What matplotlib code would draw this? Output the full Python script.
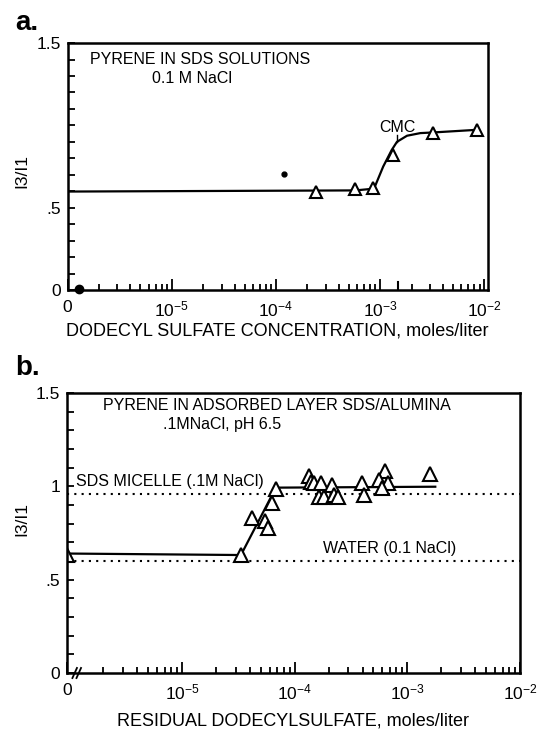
import numpy as np
import matplotlib.pyplot as plt
from matplotlib.ticker import (FixedLocator, FixedFormatter, LogLocator,
                               MultipleLocator, NullFormatter)

plt.rcParams['font.family'] = ['Liberation Sans', 'DejaVu Sans']
plt.rcParams['mathtext.fontset'] = 'custom'
plt.rcParams['mathtext.rm'] = 'Liberation Sans'
plt.rcParams['mathtext.it'] = 'Liberation Sans:italic'

# (a) pyrene in SDS solutions, 0.1 M NaCl
conc_a = [2.4e-4, 5.75e-4, 8.5e-4, 1.32e-3, 3.25e-3, 8.6e-3]
ratio_a = [0.598, 0.612, 0.619, 0.821, 0.953, 0.969]
curve_a_x = [1e-6, 5.8e-4, 8.5e-4, 8.9e-4, 1.07e-3, 1.29e-3, 1.45e-3,
             1.81e-3, 2.43e-3, 3.24e-3, 8.5e-3]
curve_a_y = [0.598, 0.605, 0.615, 0.628, 0.75, 0.85, 0.90,
             0.937, 0.953, 0.957, 0.973]
stray_x, stray_y = 1.2e-4, 0.705
blob_x, blob_y = 1.3e-6, 0.005
cmc = 1.5e-3

# (b) pyrene in adsorbed SDS layer on alumina
conc_b = [3.33e-5, 4.2e-5, 5.46e-5, 5.84e-5, 6.26e-5, 6.79e-5,
          1.34e-4, 1.39e-4, 1.48e-4, 1.70e-4, 1.64e-4, 1.82e-4,
          2.15e-4, 2.23e-4, 2.42e-4, 3.96e-4, 4.1e-4, 6.3e-4,
          5.65e-4, 6.8e-4, 5.96e-4, 1.6e-3]
ratio_b = [0.632, 0.829, 0.816, 0.775, 0.909, 0.984,
           1.055, 1.025, 1.016, 1.016, 0.944, 0.944,
           1.007, 0.953, 0.941, 1.019, 0.953, 1.084,
           1.034, 1.016, 0.989, 1.066]
ratio_b_zero = 0.634
curve_b_x = [3.33e-5, 6.8e-5, 1.77e-3]
curve_b_y = [0.632, 0.993, 0.998]
curve_b_start = 0.64
micelle_level = 0.96
water_level = 0.60

xlim_a = (1e-6, 1.08e-2)
xlim_b = (0.95e-6, 1e-2)
xtick_labels = ['0', '$10^{-5}$', '$10^{-4}$', '$10^{-3}$', '$10^{-2}$']


def style_axes(ax, xlim, ylabels):
    ax.set_xscale('log')
    ax.set_xlim(*xlim)
    ax.set_ylim(0, 1.5)
    ax.xaxis.set_major_locator(FixedLocator([xlim[0], 1e-5, 1e-4, 1e-3, 1e-2]))
    ax.xaxis.set_major_formatter(FixedFormatter(xtick_labels))
    ax.xaxis.set_minor_locator(LogLocator(base=10, subs=np.arange(2, 10), numticks=30))
    ax.xaxis.set_minor_formatter(NullFormatter())
    ax.yaxis.set_major_locator(FixedLocator([0, 0.5, 1.0, 1.5]))
    ax.yaxis.set_major_formatter(FixedFormatter(ylabels))
    ax.yaxis.set_minor_locator(MultipleLocator(0.1))
    ax.tick_params(which='both', direction='in', top=False, right=False,
                   labelsize=12.5, width=1.3, color='black')
    ax.tick_params(axis='x', which='major', length=8, pad=7)
    ax.tick_params(axis='x', which='minor', length=4)
    ax.tick_params(axis='y', which='both', length=5, pad=5)
    for s in ax.spines.values():
        s.set_linewidth(1.8)


fig = plt.figure(figsize=(5.38, 7.32), dpi=100)
ax1 = fig.add_axes([0.1257, 0.6038, 0.781, 0.3374])
ax2 = fig.add_axes([0.1245, 0.0806, 0.8420, 0.3825])

# ---- panel a
style_axes(ax1, xlim_a, ['0', '.5', '', '1.5'])
ax1.plot(curve_a_x, curve_a_y, 'k-', lw=1.6)
ax1.plot(conc_a, ratio_a, '^', ms=8, mfc='white', mec='black', mew=1.5)
ax1.plot(stray_x, stray_y, 'ko', ms=3.5)
ax1.plot(blob_x, blob_y, 'ko', ms=6, clip_on=False)
ax1.plot([cmc, cmc], [0, 0.05], 'k-', lw=1.5)
ax1.plot([1.45e-3, 1.45e-3], [0.90, 0.94], 'k-', lw=1.0)
ax1.text(1.45e-3, 0.99, 'CMC', ha='center', va='center', fontsize=11.5)
ax1.text(0.053, 0.932, 'PYRENE IN SDS SOLUTIONS', transform=ax1.transAxes,
         ha='left', va='center', fontsize=11.5)
ax1.text(0.201, 0.858, '0.1 M NaCl', transform=ax1.transAxes,
         ha='left', va='center', fontsize=11.5)
ax1.set_xlabel('DODECYL SULFATE CONCENTRATION, moles/liter', fontsize=13, labelpad=2)
ax1.text(-0.109, 0.48, 'I3/I1', transform=ax1.transAxes, rotation=90,
         ha='center', va='center', fontsize=12.5)
fig.text(0.028, 0.968, 'a.', fontsize=20, fontweight='bold', ha='left', va='center')

# ---- panel b
style_axes(ax2, xlim_b, ['0', '.5', '1', '1.5'])
ax2.axhline(micelle_level, color='black', lw=1.5, ls=(0, (1, 2.5)))
ax2.axhline(water_level, color='black', lw=1.5, ls=(0, (1, 2.5)))
ax2.plot([xlim_b[0]] + curve_b_x, [curve_b_start] + curve_b_y, 'k-', lw=1.6)
ax2.plot(conc_b, ratio_b, '^', ms=9.5, mfc='white', mec='black', mew=1.5)
ax2.plot(xlim_b[0], ratio_b_zero, '^', ms=9.5, mfc='white', mec='black', mew=1.5)
ax2.text(0.079, 0.954, 'PYRENE IN ADSORBED LAYER SDS/ALUMINA', transform=ax2.transAxes,
         ha='left', va='center', fontsize=11.5)
ax2.text(0.211, 0.886, '.1MNaCl, pH 6.5', transform=ax2.transAxes,
         ha='left', va='center', fontsize=11.5)
ax2.text(0.019, 0.683, 'SDS MICELLE (.1M NaCl)', transform=ax2.transAxes,
         ha='left', va='center', fontsize=11.5)
ax2.text(0.566, 0.445, 'WATER (0.1 NaCl)', transform=ax2.transAxes,
         ha='left', va='center', fontsize=11.5)
ax2.set_xlabel('RESIDUAL DODECYLSULFATE, moles/liter', fontsize=13, labelpad=7)
ax2.text(-0.099, 0.55, 'I3/I1', transform=ax2.transAxes, rotation=90,
         ha='center', va='center', fontsize=12.5)
# axis break marks near the origin
for dx in (0.0, 0.009):
    ax2.plot([0.012 + dx, 0.022 + dx], [-0.018, 0.018], 'k-', lw=1.3,
             transform=ax2.transAxes, clip_on=False)
fig.text(0.028, 0.497, 'b.', fontsize=20, fontweight='bold', ha='left', va='center')

fig.savefig('out.png', dpi=100)
